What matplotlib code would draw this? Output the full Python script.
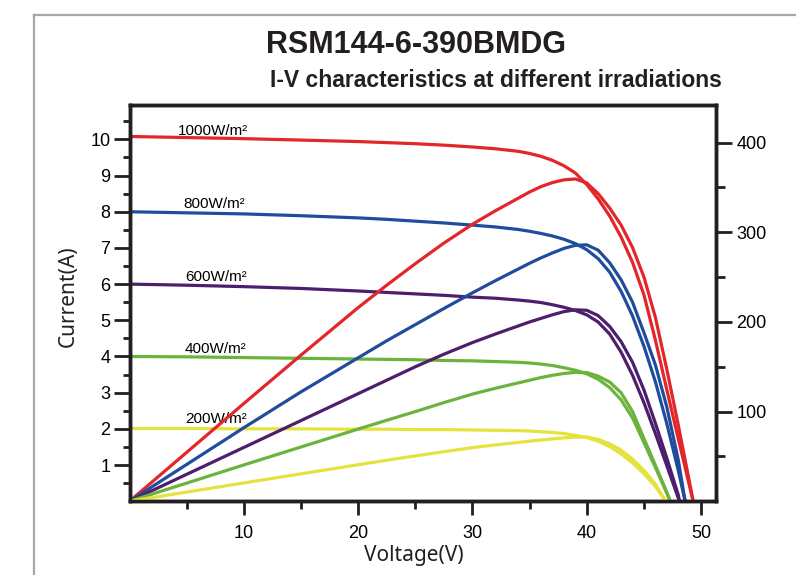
"""
I-V and P-V curves of the RSM144-6-390BMDG module at five irradiation levels.
Current on the left axis, power on the right axis.
"""

import matplotlib.pyplot as plt
from matplotlib.lines import Line2D


# voltage (V), current (A) and power (W)
V_1000 = [0, 5, 10, 15, 20, 22.5, 25, 27.5, 30, 32, 34, 35, 36, 37, 38, 39, 40, 41, 42, 43, 44, 45, 46, 47,
          48, 49, 49.3]
I_1000 = [10.08, 10.05, 10.02, 9.98, 9.94, 9.91, 9.88, 9.84, 9.79, 9.74, 9.67, 9.61, 9.53, 9.42, 9.27, 9.07,
          8.75, 8.35, 7.88, 7.30, 6.60, 5.70, 4.45, 3.08, 1.73, 0.40, 0]
P_1000 = [0, 54.5, 109, 163, 216, 241, 265, 288, 309, 324, 338, 345, 351, 355.5, 358.5, 359.5, 355, 343, 327,
          308, 283, 250, 205, 147, 85, 20, 0]

V_800 = [0, 5, 10, 15, 20, 22.5, 25, 27.5, 30, 32, 34, 35, 36, 37, 38, 39, 40, 41, 42, 43, 44, 45, 46, 47,
         48, 48.6]
I_800 = [8.00, 7.97, 7.94, 7.89, 7.83, 7.79, 7.74, 7.69, 7.63, 7.58, 7.51, 7.46, 7.40, 7.33, 7.24, 7.12,
         6.95, 6.70, 6.33, 5.80, 5.12, 4.28, 3.30, 2.14, 0.85, 0]
P_800 = [0, 41, 82, 122, 160, 179, 197, 215, 232.5, 246, 259, 265.5, 271.5, 277, 282, 285.5, 286, 280, 266,
         247, 222, 188, 152, 105, 46, 0]

V_600 = [0, 5, 10, 15, 20, 22.5, 25, 27.5, 30, 32, 34, 35, 36, 37, 38, 39, 40, 41, 42, 43, 44, 45, 46, 47,
         48, 48.1]
I_600 = [6.00, 5.97, 5.93, 5.88, 5.81, 5.77, 5.73, 5.69, 5.64, 5.61, 5.56, 5.53, 5.49, 5.43, 5.36, 5.27,
         5.15, 4.95, 4.62, 4.12, 3.48, 2.72, 1.87, 0.98, 0.09, 0]
P_600 = [0, 30, 60, 90, 120, 135, 150, 164, 177, 186.5, 195.5, 200, 204, 208, 211.5, 213.5, 213, 207, 195,
         178, 155, 124, 87, 48, 7, 0]

V_400 = [0, 5, 10, 15, 20, 22.5, 25, 27.5, 30, 32, 34, 35, 36, 37, 38, 39, 40, 41, 42, 43, 44, 45, 46, 47,
         47.3]
I_400 = [4.00, 3.99, 3.97, 3.95, 3.93, 3.92, 3.91, 3.89, 3.88, 3.86, 3.84, 3.82, 3.79, 3.75, 3.69, 3.62,
         3.52, 3.37, 3.14, 2.80, 2.30, 1.62, 0.93, 0.22, 0]
P_400 = [0, 20.2, 40.5, 60.5, 80.5, 90.3, 100, 110, 119.5, 126, 132, 135, 138, 140.5, 142.5, 143.8, 143.5,
         139.5, 133, 121, 100, 70, 40, 10, 0]

V_200 = [0, 5, 10, 15, 20, 22.5, 25, 27.5, 30, 32, 34, 35, 36, 37, 38, 39, 40, 41, 42, 43, 44, 45, 46, 46.9]
I_200 = [2.01, 2.01, 2.00, 2.00, 1.99, 1.99, 1.98, 1.98, 1.97, 1.96, 1.95, 1.94, 1.92, 1.90, 1.87, 1.82,
         1.76, 1.66, 1.51, 1.31, 1.06, 0.76, 0.41, 0]
P_200 = [0, 10.2, 20.4, 30.6, 40.7, 45.7, 50.6, 55.3, 59.8, 62.8, 65.6, 67, 68.3, 69.6, 70.7, 71.5, 71.6, 69,
         64, 57, 47, 34.5, 18.8, 0]

LABELS = ["1000W/m²", "800W/m²", "600W/m²", "400W/m²", "200W/m²"]
COLORS = ["#e2262a", "#1f4c9c", "#4d1d6e", "#6cb33e", "#e4e33e"]

CURVES = [
    (V_1000, I_1000, P_1000),
    (V_800, I_800, P_800),
    (V_600, I_600, P_600),
    (V_400, I_400, P_400),
    (V_200, I_200, P_200),
]

# where the irradiation labels sit (V, A)
LABEL_POS = [(4.2, 10.12), (4.75, 8.10), (4.85, 6.09), (4.85, 4.09), (4.85, 2.15)]

X_MAJOR = [10, 20, 30, 40, 50]
X_MINOR = [5, 15, 25, 35, 45]
Y_MAJOR = list(range(1, 11))
Y_MINOR = [k + 0.5 for k in range(0, 11)]
P_MAJOR = [100, 200, 300, 400]
P_MINOR = [50, 150, 250, 350]


def main():

    plt.rcParams["font.family"] = ["Liberation Sans", "DejaVu Sans"]

    fig = plt.figure(figsize=(7.96, 5.75), dpi=100)

    ax = fig.add_axes([0.1627, 0.1283, 0.7368, 0.6891])
    ax2 = ax.twinx()

    for (volts, amps, watts), color in zip(CURVES, COLORS):
        ax.plot(volts, amps, color=color, lw=2.3)
        ax2.plot(volts, watts, color=color, lw=2.3)

    for label, (vx, iy) in zip(LABELS, LABEL_POS):
        ax.text(vx, iy, label, fontsize=11, ha="left", va="baseline")

    ax.set_xlim(0, 51.3)
    ax.set_ylim(0, 10.95)
    ax2.set_ylim(0, 442)

    ax.set_xticks(X_MAJOR)
    ax.set_xticks(X_MINOR, minor=True)
    ax.set_yticks(Y_MAJOR)
    ax.set_yticks(Y_MINOR, minor=True)
    ax2.set_yticks(P_MAJOR)
    ax2.set_yticks(P_MINOR, minor=True)

    ax.tick_params(axis="y", which="major", length=11.3, width=2, labelsize=13, pad=2.5)
    ax.tick_params(axis="y", which="minor", length=5, width=2)
    ax.tick_params(axis="x", which="major", length=10, width=2, labelsize=13, pad=7)
    ax.tick_params(axis="x", which="minor", length=6, width=2)
    ax2.tick_params(axis="y", which="major", length=11.5, width=2, labelsize=13, pad=3)
    ax2.tick_params(axis="y", which="minor", length=6.5, width=2)

    for a in (ax, ax2):
        for spine in a.spines.values():
            spine.set_linewidth(2.5)
            spine.set_color("#231f20")
        a.tick_params(which="both", color="#231f20")

    fig.text(68 / 796, 1 - 296 / 575, "Current(A)", rotation=90, ha="center", va="center",
             fontsize=15, family=["Noto Sans", "DejaVu Sans"], color="#231f20")
    fig.text(414 / 796, 1 - 555 / 575, "Voltage(V)", ha="center", va="center",
             fontsize=15, family=["Noto Sans", "DejaVu Sans"], color="#231f20")

    fig.text(416 / 796, 1 - 45 / 575, "RSM144-6-390BMDG", ha="center", va="center",
             fontsize=22, fontweight="bold", color="#231f20")
    fig.text(495.5 / 796, 1 - 81 / 575, "I-V characteristics at different irradiations",
             ha="center", va="center", fontsize=16.5, fontweight="bold", color="#231f20")

    # grey border of the page cell
    fig.add_artist(Line2D([34 / 796, 34 / 796], [0, 1 - 15 / 575], transform=fig.transFigure,
                          color="#a8a8a8", lw=1.6))
    fig.add_artist(Line2D([34 / 796, 1], [1 - 15 / 575, 1 - 15 / 575], transform=fig.transFigure,
                          color="#a8a8a8", lw=1.6))

    fig.savefig("out.png", dpi=100)


if __name__ == "__main__":
    main()
